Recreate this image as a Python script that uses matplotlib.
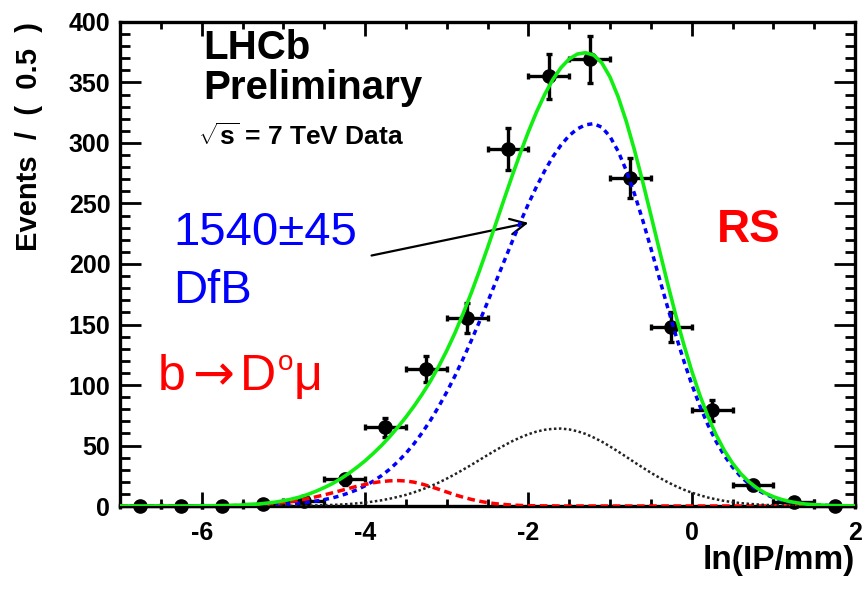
import numpy as np
import matplotlib
matplotlib.use("Agg")
import matplotlib.pyplot as plt
from matplotlib.ticker import MultipleLocator

plt.rcParams["font.family"] = ["Liberation Sans", "DejaVu Sans"]
plt.rcParams["mathtext.fontset"] = "custom"
plt.rcParams["mathtext.rm"] = "Liberation Sans"
plt.rcParams["mathtext.bf"] = "Liberation Sans:bold"
plt.rcParams["axes.unicode_minus"] = False

# ---- binned data: ln(IP/mm), bin width 0.5 ----
bin_centers = [-6.75, -6.25, -5.75, -5.25, -4.75, -4.25, -3.75, -3.25, -2.75,
               -2.25, -1.75, -1.25, -0.75, -0.25, 0.25, 0.75, 1.25, 1.75]
events = [0, 0, 0, 2, 4, 22, 65, 113, 155, 295, 355, 369, 271, 148, 79, 17, 3, 0]
event_err = [0, 0, 0, 1.4, 2.0, 4.7, 8.1, 10.6, 12.4, 17.2, 18.8, 19.2, 16.5,
             12.2, 8.9, 4.1, 1.7, 0]
bin_half_width = 0.25

# ---- fit components, sampled every 0.1 from -7.0 to 2.0 ----
fit_x = np.round(np.arange(-7.0, 2.0001, 0.1), 1)
fit_dfb = [0.0, 0.0, 0.0, 0.0, 0.0, 0.0, 0.0, 0.0, 0.0, 0.0, 0.1, 0.1, 0.1,
           0.2, 0.2, 0.3, 0.4, 0.6, 0.8, 1.0, 1.4, 1.8, 2.4, 3.2, 4.1, 5.3,
           6.7, 8.5, 10.8, 13.4, 16.7, 20.5, 25.0, 30.3, 36.5, 43.5, 51.5, 60.6, 70.7,
           81.9, 94.1, 107.3, 121.5, 136.5, 152.2, 168.4, 185.0, 201.7, 218.2, 234.2, 249.6, 263.9,
           277.0, 288.6, 298.3, 306.1, 311.7, 315.0, 316.0, 313.0, 305.3, 293.1, 277.1, 257.9, 236.3,
           213.1, 189.3, 165.5, 142.4, 120.7, 100.7, 82.7, 66.9, 53.2, 41.7, 32.2, 24.4, 18.3,
           13.5, 9.8, 7.0, 4.9, 3.4, 2.3, 1.5, 1.0, 0.7, 0.4, 0.3, 0.2, 0.1]
fit_bdmu = [0.0, 0.0, 0.0, 0.0, 0.0, 0.0, 0.0, 0.0, 0.0, 0.0, 0.1, 0.1, 0.2,
            0.2, 0.4, 0.5, 0.8, 1.1, 1.5, 2.1, 2.8, 3.7, 4.8, 6.1, 7.6, 9.2,
            10.9, 12.7, 14.5, 16.3, 17.8, 19.2, 20.2, 20.8, 21.0, 20.7, 19.7, 18.1, 16.1,
            13.9, 11.6, 9.3, 7.3, 5.5, 4.0, 2.8, 1.9, 1.3, 0.8, 0.5, 0.3, 0.2,
            0.1, 0.1, 0.0, 0.0, 0.0, 0.0, 0.0, 0.0, 0.0, 0.0, 0.0, 0.0, 0.0,
            0.0, 0.0, 0.0, 0.0, 0.0, 0.0, 0.0, 0.0, 0.0, 0.0, 0.0, 0.0, 0.0,
            0.0, 0.0, 0.0, 0.0, 0.0, 0.0, 0.0, 0.0, 0.0, 0.0, 0.0, 0.0, 0.0]
fit_prompt = [0.0, 0.0, 0.0, 0.0, 0.0, 0.0, 0.0, 0.0, 0.0, 0.0, 0.0, 0.0, 0.0,
              0.0, 0.0, 0.0, 0.0, 0.0, 0.1, 0.1, 0.1, 0.2, 0.2, 0.3, 0.5, 0.7,
              0.9, 1.2, 1.6, 2.2, 2.8, 3.7, 4.7, 6.0, 7.5, 9.2, 11.3, 13.7, 16.3,
              19.3, 22.6, 26.2, 30.0, 33.9, 38.0, 42.1, 46.1, 49.9, 53.5, 56.6, 59.3, 61.5,
              63.0, 63.8, 64.0, 63.3, 61.8, 59.6, 56.6, 53.2, 49.2, 45.0, 40.6, 36.1, 31.8,
              27.5, 23.6, 19.9, 16.6, 13.6, 11.1, 8.9, 7.0, 5.5, 4.2, 3.2, 2.4, 1.8,
              1.3, 0.9, 0.7, 0.5, 0.3, 0.2, 0.1, 0.1, 0.1, 0.0, 0.0, 0.0, 0.0]
fit_total = np.array(fit_dfb) + np.array(fit_bdmu) + np.array(fit_prompt)

fig = plt.figure(figsize=(8.66, 5.91), dpi=100)
ax = fig.add_axes([0.1386, 0.1438, 0.8487, 0.8190])

ax.errorbar(bin_centers, events, yerr=event_err, xerr=bin_half_width,
            fmt="o", color="black", ms=9.5, elinewidth=2.4, capsize=2.5,
            capthick=2.4, clip_on=False, zorder=3)

ax.plot(fit_x, fit_dfb, color="#0000ff", lw=2.5, ls=(0, (1.5, 1.3)), zorder=4)
ax.plot(fit_x, fit_bdmu, color="#ff0000", lw=2.5, ls=(0, (2.2, 1.3)), zorder=4)
ax.plot(fit_x, fit_prompt, color="#222222", lw=1.8, ls=(0, (1, 1)), zorder=4)
ax.plot(fit_x, fit_total, color="#11ee11", lw=2.6, zorder=5)

ax.set_xlim(-7, 2)
ax.set_ylim(0, 400)

for side in ax.spines.values():
    side.set_linewidth(2.4)

ax.xaxis.set_major_locator(MultipleLocator(2))
ax.xaxis.set_minor_locator(MultipleLocator(0.5))
ax.yaxis.set_major_locator(MultipleLocator(50))
ax.yaxis.set_minor_locator(MultipleLocator(10))
ax.tick_params(axis="x", which="major", direction="in", length=10, width=2,
               top=True, labelsize=18, pad=11)
ax.tick_params(axis="x", which="minor", direction="in", length=5, width=2, top=True)
ax.tick_params(axis="y", which="major", direction="in", length=15, width=2,
               right=True, labelsize=18, pad=7)
ax.tick_params(axis="y", which="minor", direction="in", length=7, width=2, right=True)
for lab in ax.get_xticklabels() + ax.get_yticklabels():
    lab.set_fontweight("bold")

ax.set_ylabel("Events  /  (  0.5  )", fontsize=21, fontweight="bold")
ax.yaxis.set_label_coords(-0.105, 1.0)
ax.yaxis.label.set_horizontalalignment("right")
ax.set_xlabel("ln(IP/mm)", fontsize=24, fontweight="bold")
ax.xaxis.set_label_coords(1.0, -0.08)
ax.xaxis.label.set_horizontalalignment("right")

# annotations
ax.text(-5.98, 369, "LHCb", fontsize=29, fontweight="bold")
ax.text(-5.98, 336, "Preliminary", fontsize=29, fontweight="bold")
ax.text(-6.05, 298, r"$\sqrt{\mathbf{s}}$ = 7 TeV Data", fontsize=19, fontweight="bold")
ax.text(-6.35, 216, "1540±45", fontsize=34, color="#0000ff")
ax.text(-6.35, 168, "DfB", fontsize=34, color="#0000ff")

# b -> D0 mu label, assembled from pieces
ax.text(-6.535, 96, "b", fontsize=36, color="#ff0000")
ax.text(-5.862, 96, "→", fontsize=36, color="#ff0000", ha="center",
        family="DejaVu Sans")
ax.text(-5.531, 96, "D", fontsize=36, color="#ff0000")
ax.text(-5.07, 112, "o", fontsize=20, color="#ff0000")
ax.text(-4.875, 96, "μ", fontsize=36, color="#ff0000")

ax.text(0.31, 218, "RS", fontsize=33, fontweight="bold", color="#ff0000")

ax.annotate("", xy=(-2.0, 234), xytext=(-3.92, 207),
            arrowprops=dict(arrowstyle="->", color="black", lw=1.6,
                            mutation_scale=28, shrinkA=0, shrinkB=0))

fig.savefig("out.png", dpi=100)
